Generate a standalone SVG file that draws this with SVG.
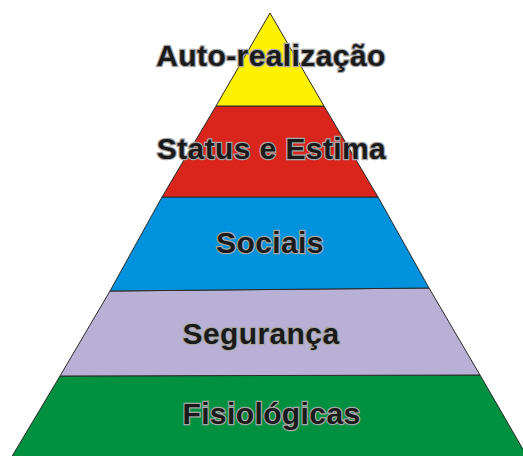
<svg xmlns="http://www.w3.org/2000/svg" width="523" height="456" viewBox="0 0 523 456">
<style>
.layer{stroke:#2a2a2a;stroke-width:1;stroke-linejoin:miter}
.lbl{font-family:"Liberation Sans",Arial,sans-serif;font-weight:bold;font-size:30px;letter-spacing:0.4px;fill:#1a1a1a;stroke:#a8a8a8;stroke-width:2.4px;paint-order:stroke;text-anchor:middle}
</style>
<rect width="523" height="456" fill="#ffffff"/>
<g id="fisiologicas">
<polygon class="layer" fill="#009140" points="60,376 480,375 528,458 11,458"/>
<text class="lbl" x="271.5" y="424">Fisiológicas</text>
</g>
<g id="seguranca">
<polygon class="layer" fill="#b8b1d5" points="110,291 429,288 480,375 60,376"/>
<text class="lbl" x="261" y="344">Segurança</text>
</g>
<g id="sociais">
<polygon class="layer" fill="#0092dc" points="162,197 378,197 429,288 110,291"/>
<text class="lbl" x="270" y="253">Sociais</text>
</g>
<g id="status">
<polygon class="layer" fill="#da251d" points="216,106 324,106 378,197 162,197"/>
<text class="lbl" x="271.5" y="159">Status e Estima</text>
</g>
<g id="autorealizacao">
<polygon class="layer" fill="#fff200" points="270,13 324,106 216,106"/>
<text class="lbl" x="271" y="66">Auto-realização</text>
</g>
<g id="connectors"></g>
</svg>
